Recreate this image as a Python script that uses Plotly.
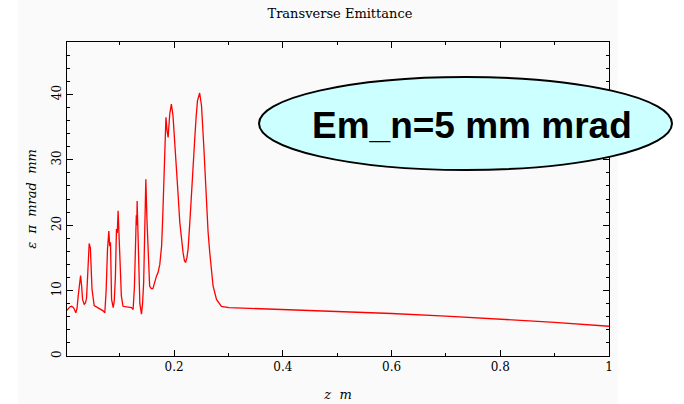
import plotly.graph_objects as go

# ---- data ----
z_m = [0.003, 0.008, 0.0114, 0.015, 0.0193, 0.0215, 0.0236, 0.026, 0.028, 0.030,
       0.0316, 0.0346, 0.037, 0.039, 0.041, 0.0438, 0.046, 0.049, 0.053, 0.060,
       0.0695, 0.0726, 0.075, 0.0775, 0.080, 0.0815, 0.083, 0.085, 0.088, 0.090,
       0.092, 0.094, 0.0955, 0.097, 0.099, 0.101, 0.103, 0.106, 0.1217, 0.1246,
       0.127, 0.129, 0.1305, 0.1315, 0.132, 0.1335, 0.135, 0.137, 0.140, 0.142,
       0.144, 0.146, 0.148, 0.150, 0.152, 0.155, 0.158, 0.161, 0.1676, 0.1706,
       0.1737, 0.177, 0.179, 0.181, 0.1825, 0.184, 0.185, 0.187, 0.189, 0.192,
       0.195, 0.198, 0.2012, 0.2044, 0.2075, 0.2105, 0.2135, 0.2165, 0.219, 0.221,
       0.2235, 0.2257, 0.229, 0.232, 0.235, 0.238, 0.2405, 0.243, 0.247, 0.2504,
       0.2546, 0.2595, 0.2625, 0.2656, 0.2685, 0.2717, 0.278, 0.287, 0.301, 0.335,
       0.40, 0.50, 0.60, 0.70, 0.80, 0.90, 1.0]
emittance = [7.0, 7.5, 7.6, 7.4, 6.6, 7.3, 9.2, 11.5, 12.3, 10.6,
             8.65, 7.9, 8.1, 8.9, 12.0, 17.2, 16.5, 10.2, 7.7, 7.4,
             6.9, 6.6, 10.0, 16.3, 19.1, 16.8, 17.4, 8.65, 7.4, 8.5,
             12.0, 19.4, 18.8, 22.2, 17.0, 11.5, 9.2, 7.6, 7.4, 7.1,
             10.5, 16.8, 21.5, 20.0, 23.7, 19.0, 12.0, 8.0, 6.4, 8.0,
             11.2, 20.0, 27.0, 21.0, 16.3, 10.7, 10.3, 10.3, 12.2, 12.8,
             14.0, 16.8, 21.0, 27.0, 32.0, 35.2, 36.5, 34.5, 33.4, 37.0,
             38.5, 36.7, 33.0, 29.1, 24.5, 20.4, 17.8, 15.8, 14.6, 14.3,
             15.0, 16.3, 20.5, 25.5, 29.5, 33.2, 36.5, 39.0, 40.2, 38.3,
             32.1, 22.9, 19.0, 15.8, 13.0, 10.7, 8.65, 7.6, 7.4, 7.3,
             7.1, 6.85, 6.5, 6.1, 5.65, 5.15, 4.55]

x_ticks = [0.2, 0.4, 0.6, 0.8, 1.0]
x_tick_labels = ["0.2", "0.4", "0.6", "0.8", "1"]
y_ticks = [0, 10, 20, 30, 40]
y_tick_labels = ["0", "10", "20", "30", "40"]

title_text = "Transverse Emittance"
x_title = "<i>z  m</i>"
y_title = "<i>ε  π  mrad  mm</i>"
note_text = "<b>Em_n=5 mm mrad</b>"

serif = "DejaVu Serif"

fig = go.Figure()
fig.add_trace(go.Scatter(x=z_m, y=emittance, mode="lines",
                         line=dict(color="#ff0000", width=1.3),
                         showlegend=False, hoverinfo="skip"))

axis_common = dict(
    showgrid=False, zeroline=False, showline=True, linecolor="black", linewidth=1,
    mirror="ticks", ticks="inside", ticklen=6, tickwidth=1, tickcolor="black",
    tickfont=dict(family=serif, size=12, color="black"), automargin=False,
)

fig.update_xaxes(
    range=[0.003, 1.0], tickvals=x_ticks, ticktext=x_tick_labels,
    minor=dict(dtick=0.1, tick0=0.1, ticks="inside", ticklen=3, tickcolor="black"),
    title=dict(text=x_title, font=dict(family=serif, size=13, color="black"), standoff=16),
    **axis_common,
)
fig.update_yaxes(
    range=[0, 48], tickvals=y_ticks, ticktext=y_tick_labels, tickangle=-90,
    minor=dict(dtick=2, tick0=0, ticks="inside", ticklen=3, tickcolor="black"),
    title=dict(text=y_title, font=dict(family=serif, size=13, color="black"), standoff=10),
    **axis_common,
)

fig.update_layout(
    width=684, height=404,
    margin=dict(l=67, r=75, t=42, b=48, autoexpand=False),
    paper_bgcolor="white", plot_bgcolor="rgba(0,0,0,0)",
    title=dict(text=title_text, x=0.497, xanchor="center", y=1 - 13 / 404,
               yanchor="middle", yref="container",
               font=dict(family=serif, size=13, color="black")),
    shapes=[
        dict(type="rect", xref="paper", yref="paper",
             x0=(18 - 67) / 542, x1=(618 - 67) / 542, y0=-48 / 314, y1=(356) / 314,
             fillcolor="#fafafa", line=dict(width=0), layer="below"),
        dict(type="circle", xref="paper", yref="paper",
             x0=(259 - 67) / 542, x1=(672 - 67) / 542,
             y0=(356 - 170) / 314, y1=(356 - 77) / 314,
             fillcolor="#ccffff", line=dict(color="black", width=2), layer="above"),
    ],
    annotations=[
        dict(text=note_text, xref="paper", yref="paper",
             x=(472 - 67) / 542, y=(356 - 125) / 314, xanchor="center", yanchor="middle",
             showarrow=False,
             font=dict(family="Liberation Sans", size=37, color="black")),
    ],
)

fig.write_html("out.html")
